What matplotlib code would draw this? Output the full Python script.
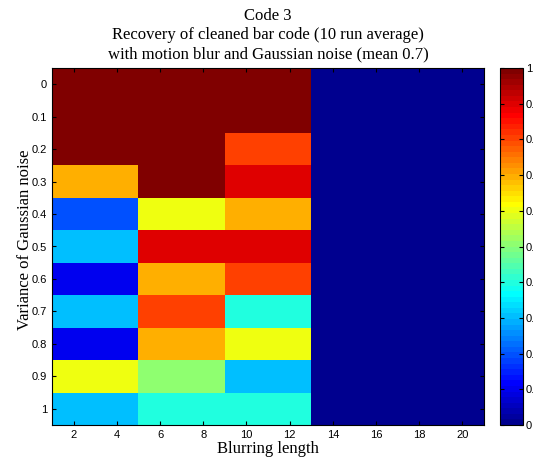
import numpy as np
import matplotlib
matplotlib.use("Agg")
from matplotlib import pyplot as plt
from matplotlib.colors import ListedColormap

# blurring length bins (edges) and noise variance rows
x_edges = [1, 5, 9, 13, 17, 21]
variance = [0, 0.1, 0.2, 0.3, 0.4, 0.5, 0.6, 0.7, 0.8, 0.9, 1]

# recovery rate, one row per variance, one column per blurring bin
recovery = [
    [1.0, 1.0, 1.0, 0.0, 0.0],
    [1.0, 1.0, 1.0, 0.0, 0.0],
    [1.0, 1.0, 0.8, 0.0, 0.0],
    [0.7, 1.0, 0.9, 0.0, 0.0],
    [0.2, 0.6, 0.7, 0.0, 0.0],
    [0.3, 0.9, 0.9, 0.0, 0.0],
    [0.1, 0.7, 0.8, 0.0, 0.0],
    [0.3, 0.8, 0.4, 0.0, 0.0],
    [0.1, 0.7, 0.6, 0.0, 0.0],
    [0.6, 0.5, 0.3, 0.0, 0.0],
    [0.3, 0.4, 0.4, 0.0, 0.0],
]

xticks = [2, 4, 6, 8, 10, 12, 14, 16, 18, 20]
cbar_ticks = [0, 0.1, 0.2, 0.3, 0.4, 0.5, 0.6, 0.7, 0.8, 0.9, 1]


def matlab_jet(m=64):
    # same construction as matlab's jet(m)
    n = int(np.ceil(m / 4))
    u = np.concatenate([np.arange(1, n + 1) / n, np.ones(n - 1), np.arange(n, 0, -1) / n])
    g = int(np.ceil(n / 2)) - (m % 4 == 1) + np.arange(1, len(u) + 1)
    r = g + n
    b = g - n
    J = np.zeros((m, 3))
    for col, idx in ((0, r), (1, g), (2, b)):
        ok = (idx >= 1) & (idx <= m)
        J[idx[ok] - 1, col] = u[ok]
    return ListedColormap(J)


fig = plt.figure(figsize=(5.33, 4.61), dpi=100)
W, H = 533.0, 461.0
ax = fig.add_axes([52 / W, 1 - 425 / H, (484 - 52) / W, (425 - 68) / H])
cax = fig.add_axes([500 / W, 1 - 425 / H, (523 - 500) / W, (425 - 68) / H])

step = 0.1
y_edges = [v - step / 2 for v in variance] + [variance[-1] + step / 2]
mesh = ax.pcolormesh(x_edges, y_edges, np.array(recovery), cmap=matlab_jet(64), vmin=0, vmax=1)
ax.set_xlim(1, 21)
ax.set_ylim(y_edges[-1], y_edges[0])

ax.set_xticks(xticks)
ax.set_yticks(variance)
ax.set_yticklabels(["{:g}".format(v) for v in variance])
ax.tick_params(direction='in', top=True, right=True, length=3, labelsize=8,
               labelfontfamily='Liberation Sans')
for s in ax.spines.values():
    s.set_linewidth(0.8)

serif = 'Liberation Serif'
ax.set_xlabel('Blurring length', fontsize=12, family=serif, labelpad=1)
ax.set_ylabel('Variance of Gaussian noise', fontsize=12, family=serif)
ax.yaxis.set_label_coords(-0.045, 0.52)
ax.set_title("Code 3\nRecovery of cleaned bar code (10 run average)\nwith motion blur and Gaussian noise (mean 0.7)",
             fontsize=12, family=serif, pad=7, linespacing=1.25)

# tick labels run past the right edge, as in the original
cb = fig.colorbar(mesh, cax=cax, ticks=cbar_ticks)
cb.ax.set_yticklabels(["{:g}".format(t) for t in cbar_ticks])
cb.ax.tick_params(direction='in', left=True, right=True, length=3, labelsize=8,
                  labelfontfamily='Liberation Sans', pad=2)
cb.outline.set_linewidth(0.8)

plt.savefig('out.png', dpi=100)
